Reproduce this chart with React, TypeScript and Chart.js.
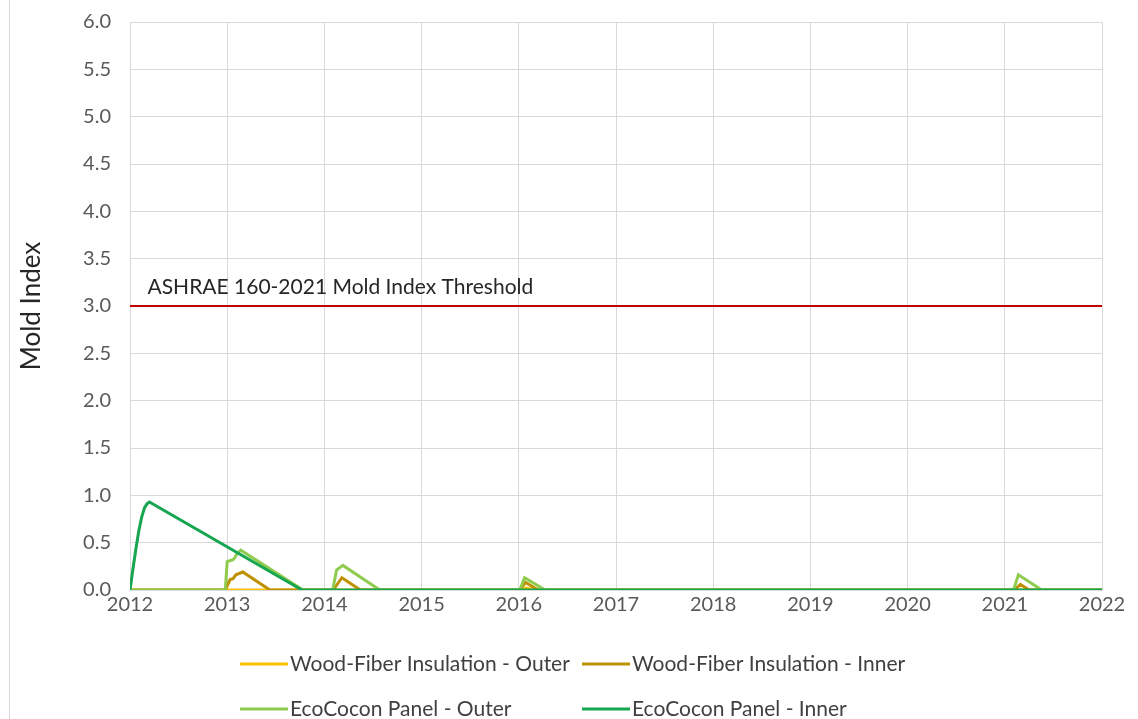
import React, { useEffect, useRef } from "react";
import { Chart, registerables } from "chart.js";

Chart.register(...registerables);

const yearTicks = [2012, 2013, 2014, 2015, 2016, 2017, 2018, 2019, 2020, 2021, 2022];
const seriesNames = [
  "Wood-Fiber Insulation - Outer",
  "Wood-Fiber Insulation - Inner",
  "EcoCocon Panel - Outer",
  "EcoCocon Panel - Inner",
];
const seriesColors = ["#FFC000", "#BF9000", "#8FCB4F", "#16A650"];

const woodOuterX = [2012.0, 2016.0, 2016.08, 2016.16, 2022.0];
const woodOuterY = [0, 0, 0.02, 0, 0];

const woodInnerX = [2012.0, 2012.98, 2013.03, 2013.06, 2013.09, 2013.16, 2013.44, 2014.09, 2014.18, 2014.37, 2016.01, 2016.07, 2016.2, 2021.1, 2021.16, 2021.25, 2022.0];
const woodInnerY = [0, 0, 0.11, 0.12, 0.16, 0.19, 0, 0, 0.13, 0, 0, 0.08, 0, 0, 0.06, 0, 0];

const ecoOuterX = [2012.0, 2012.98, 2013.0, 2013.06, 2013.08, 2013.1, 2013.14, 2013.78, 2014.085, 2014.125, 2014.19, 2014.57, 2016.01, 2016.06, 2016.27, 2021.09, 2021.14, 2021.38, 2022.0];
const ecoOuterY = [0, 0, 0.3, 0.32, 0.345, 0.38, 0.42, 0, 0, 0.21, 0.26, 0, 0, 0.13, 0, 0, 0.16, 0, 0];

const ecoInnerX = [2012.0, 2012.03, 2012.06, 2012.09, 2012.12, 2012.15, 2012.175, 2012.2, 2013.77, 2022.0];
const ecoInnerY = [0, 0.22, 0.43, 0.62, 0.77, 0.87, 0.91, 0.93, 0, 0];

const thresholdX = [2012, 2022];
const thresholdY = [3.0, 3.0];
const thresholdLabel = "ASHRAE 160-2021 Mold Index Threshold";

const FONT = "Lato, 'Open Sans', sans-serif";

const zip = (xs: number[], ys: number[]) => xs.map((x, i) => ({ x, y: ys[i] }));

export default function App() {
  const ref = useRef<HTMLCanvasElement | null>(null);

  useEffect(() => {
    document.body.style.margin = "0";
    const canvas = ref.current;
    if (!canvas) return;

    const seriesData = [
      zip(woodOuterX, woodOuterY),
      zip(woodInnerX, woodInnerY),
      zip(ecoOuterX, ecoOuterY),
      zip(ecoInnerX, ecoInnerY),
    ];

    const extras = {
      id: "extras",
      afterDraw(chart: any) {
        const ctx = chart.ctx;
        const xs = chart.scales.x;
        const ys = chart.scales.y;
        ctx.save();
        ctx.strokeStyle = "#D9D9D9";
        ctx.lineWidth = 1;
        ctx.beginPath();
        ctx.moveTo(9.5, 0);
        ctx.lineTo(9.5, 719);
        ctx.stroke();
        ctx.fillStyle = "#262626";
        ctx.font = `21px ${FONT}`;
        ctx.textAlign = "left";
        ctx.textBaseline = "middle";
        ctx.fillText(thresholdLabel, xs.getPixelForValue(2012.18), ys.getPixelForValue(3.2));
        const cols = [240, 582];
        const rows = [664, 709];
        seriesNames.forEach((name, i) => {
          const cx = cols[i % 2];
          const cy = rows[Math.floor(i / 2)];
          ctx.strokeStyle = seriesColors[i];
          ctx.lineWidth = 3;
          ctx.beginPath();
          ctx.moveTo(cx, cy);
          ctx.lineTo(cx + 48, cy);
          ctx.stroke();
          ctx.fillStyle = "#404040";
          ctx.font = `21px ${FONT}`;
          ctx.fillText(name, cx + 50, cy);
        });
        ctx.restore();
      },
    };

    const chart = new Chart(canvas, {
      type: "line",
      data: {
        datasets: [
          ...seriesNames.map((name, i) => ({
            label: name,
            data: seriesData[i],
            borderColor: seriesColors[i],
            backgroundColor: seriesColors[i],
            borderWidth: 3,
            pointRadius: 0,
            tension: 0,
            order: 5 - i,
          })),
          {
            label: "Threshold",
            data: zip(thresholdX, thresholdY),
            borderColor: "#C00000",
            backgroundColor: "#C00000",
            borderWidth: 2,
            pointRadius: 0,
            order: 0,
          },
        ],
      },
      options: {
        animation: false,
        responsive: false,
        layout: { padding: { left: 10, right: 36, top: 22, bottom: 99 } },
        plugins: {
          legend: { display: false },
          tooltip: { enabled: false },
        },
        scales: {
          x: {
            type: "linear",
            min: 2012,
            max: 2022,
            afterBuildTicks: (s: any) => {
              s.ticks = yearTicks.map((v) => ({ value: v }));
            },
            afterFit: (s: any) => {
              s.height = 30;
              s.paddingLeft = 0;
              s.paddingRight = 0;
            },
            ticks: {
              callback: (v: any) => String(v),
              color: "#595959",
              font: { family: FONT, size: 20 },
              padding: 3,
              maxRotation: 0,
            },
            grid: { color: "#D9D9D9", drawTicks: false, lineWidth: 1 },
            border: { color: "#D9D9D9" },
          },
          y: {
            min: 0,
            max: 6,
            ticks: {
              stepSize: 0.5,
              callback: (v: any) => Number(v).toFixed(1),
              color: "#595959",
              font: { family: FONT, size: 20 },
              padding: 19,
            },
            afterFit: (s: any) => {
              s.width = 120;
              s.paddingTop = 0;
              s.paddingBottom = 0;
            },
            title: {
              display: true,
              text: "Mold Index",
              color: "#262626",
              font: { family: FONT, size: 26 },
              padding: { top: 6, bottom: 0 },
            },
            grid: { color: "#D9D9D9", drawTicks: false, lineWidth: 1 },
            border: { color: "#D9D9D9" },
          },
        },
      },
      plugins: [extras],
    } as any);

    return () => chart.destroy();
  }, []);

  return (
    <div style={{ width: 1138, height: 719, background: "#fff" }}>
      <canvas ref={ref} width={1138} height={719} style={{ display: "block" }} />
    </div>
  );
}
